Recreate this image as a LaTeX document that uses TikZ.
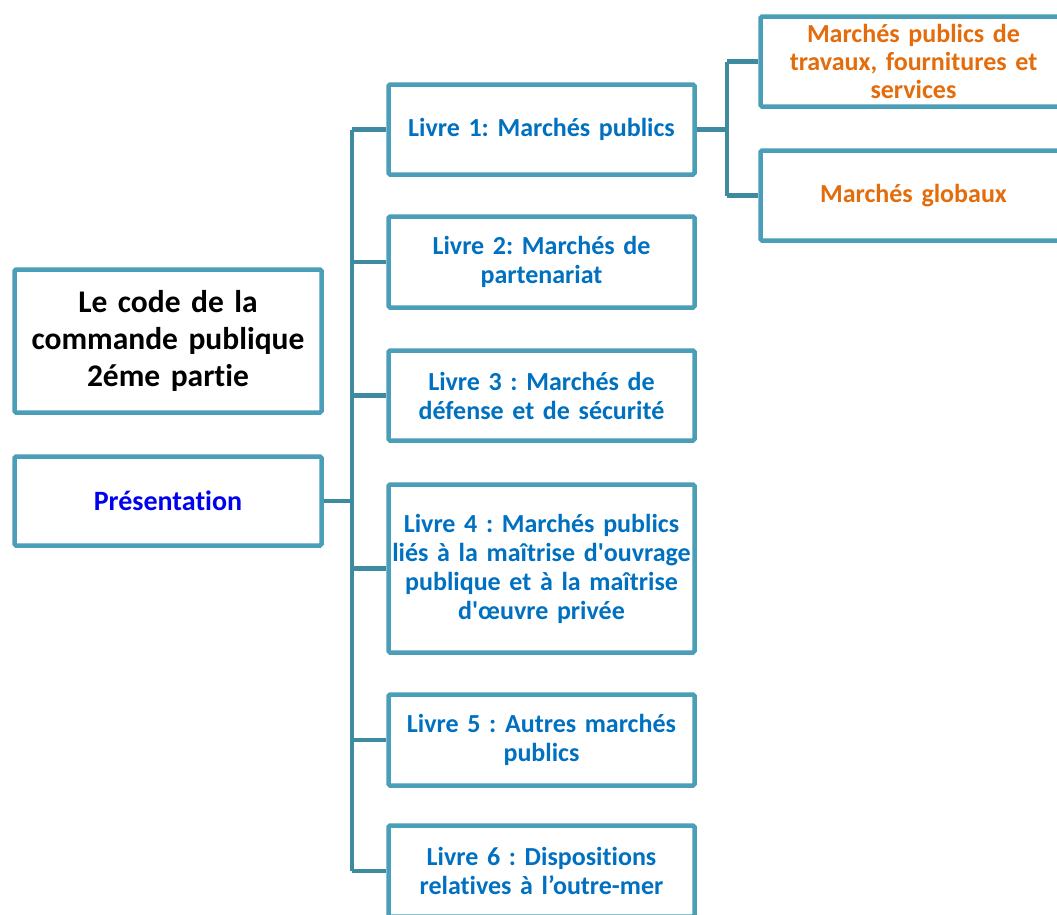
\documentclass[tikz,border=0pt]{standalone}
\usepackage{fontspec}
\setmainfont{Carlito}[Ligatures={NoCommon}]
\frenchspacing
\definecolor{cadre}{RGB}{75,158,183}
\definecolor{trait}{RGB}{62,138,158}
\definecolor{bleuL}{RGB}{0,112,192}
\definecolor{orangeM}{RGB}{228,108,10}
\definecolor{bleuP}{RGB}{0,0,240}
\begin{document}
\begin{tikzpicture}[x=1pt,y=-1pt]
\tikzset{boite/.style={draw=cadre, line width=4.5pt, rounded corners=1.5pt, fill=white, align=center, font=\bfseries\fontsize{26}{29}\selectfont, inner sep=0pt},
lien/.style={draw=trait, line width=4.5pt}}
\clip (0,0) rectangle (1057,914);
\node[boite, minimum width=307pt, minimum height=143pt, text width=300pt, font=\bfseries\fontsize{31.5}{37}\selectfont] (T) at (168,341) {Le code de la\\commande publique\\2éme partie};
\node[boite, minimum width=307pt, minimum height=89pt, text width=300pt, text=bleuP, font=\bfseries\fontsize{28}{33}\selectfont] (P) at (168,501) {Présentation};
\node[boite, minimum width=306pt, minimum height=90pt, text width=300pt, text=bleuL] (L1) at (541.5,129.5) {Livre 1: Marchés publics};
\node[boite, minimum width=306pt, minimum height=91pt, text width=300pt, text=bleuL] (L2) at (541.5,262) {Livre 2: Marchés de\\partenariat};
\node[boite, minimum width=306pt, minimum height=90pt, text width=300pt, text=bleuL] (L3) at (541.5,395.5) {Livre 3 : Marchés de\\défense et de sécurité};
\node[boite, minimum width=306pt, minimum height=168pt, text width=300pt, text=bleuL] (L4) at (541.5,568.5) {Livre 4 : Marchés publics\\liés à la maîtrise d\textquotesingle ouvrage\\publique et à la maîtrise\\d\textquotesingle œuvre privée};
\node[boite, minimum width=306pt, minimum height=91pt, text width=300pt, text=bleuL] (L5) at (541.5,740) {Livre 5 : Autres marchés\\publics};
\node[boite, minimum width=306pt, minimum height=91pt, text width=300pt, text=bleuL] (L6) at (541.5,871) {Livre 6 : Dispositions\\relatives à l’outre-mer};
\node[boite, minimum width=306pt, minimum height=90pt, text width=300pt, text=orangeM, font=\bfseries\fontsize{26}{28}\selectfont] (M1) at (913.5,61.5) {Marchés publics de\\travaux, fournitures et\\services};
\node[boite, minimum width=306pt, minimum height=90pt, text width=300pt, text=orangeM] (M2) at (913.5,195.5) {Marchés globaux};
\coordinate (tronc) at (352,0);
\coordinate (branche) at (727,0);
\draw[lien] (L1.west -| tronc) -- (L6.west -| tronc);
\draw[lien] (P.east) -- (P.east -| tronc);
\draw[lien] (L1.west -| tronc) -- (L1.west);
\draw[lien] (L2.west -| tronc) -- (L2.west);
\draw[lien] (L3.west -| tronc) -- (L3.west);
\draw[lien] (L4.west -| tronc) -- (L4.west);
\draw[lien] (L5.west -| tronc) -- (L5.west);
\draw[lien] (L6.west -| tronc) -- (L6.west);
\draw[lien] (L1.east) -- (L1.east -| branche);
\draw[lien] (M1.west -| branche) -- (M2.west -| branche);
\draw[lien] (M1.west -| branche) -- (M1.west);
\draw[lien] (M2.west -| branche) -- (M2.west);
\end{tikzpicture}
\end{document}
